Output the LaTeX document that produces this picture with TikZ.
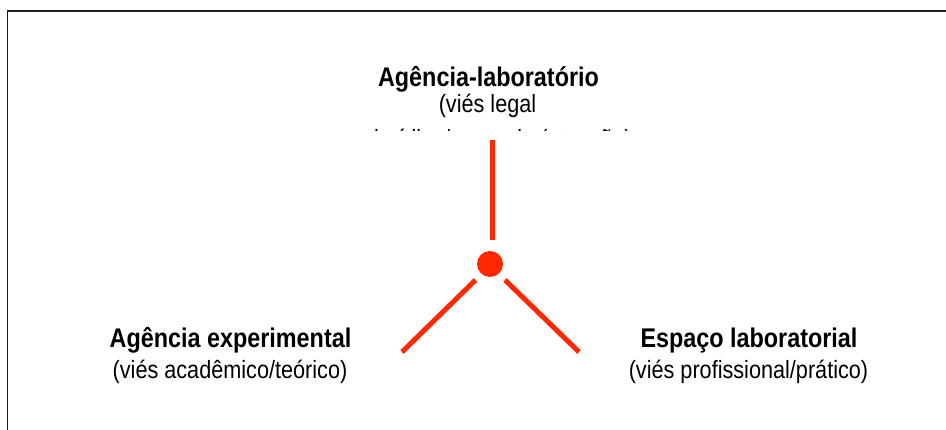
\documentclass[tikz,border=0pt]{standalone}
\usepackage{fontspec}
\setmainfont{Liberation Sans}[FakeStretch=0.866]
\definecolor{hubred}{RGB}{255,40,0}
\definecolor{frame}{RGB}{30,30,30}
\begin{document}
\begin{tikzpicture}[x=1pt,y=-1pt,
  titletext/.style={anchor=base,inner sep=0pt,font=\fontsize{27}{31}\selectfont\bfseries},
  subtext/.style={anchor=base,inner sep=0pt,font=\fontsize{25}{29}\selectfont},
  spoke/.style={draw=hubred,line width=5pt},
  framestyle/.style={draw=frame,line width=1.5pt}]
\useasboundingbox (0,0) rectangle (946,430);
% frame
\coordinate (fbl) at (7.3,430);
\coordinate (ftl) at (7.3,11);
\coordinate (ftr) at (946,11);
\draw[framestyle] (fbl) -- (ftl) -- (ftr);
% top label
\node[titletext] (toptitle) at (488.5,86.7) {Agência-laboratório};
\node[subtext] (topsub) at (487.5,112.2) {(viés legal};
\begin{scope}
\clip (0,0) rectangle (946,130.5);
\node[subtext] (topsubb) at (503,148) {jurídico/mercado (atuação)};
\end{scope}
% left label
\node[titletext] (lefttitle) at (230.5,347.3) {Agência experimental};
\node[subtext] (leftsub) at (230,378.3) {(viés acadêmico/teórico)};
% right label
\node[titletext] (righttitle) at (749,347.3) {Espaço laboratorial};
\node[subtext] (rightsub) at (748.5,378.3) {(viés profissional/prático)};
% hub
\node[circle,fill=hubred,minimum size=26pt,inner sep=0pt] (hub) at (490,264) {};
\coordinate (vtop) at (492.5,140);
\coordinate (vbot) at (492.5,240);
\coordinate (ltop) at (475.5,280);
\coordinate (lbot) at (402,352);
\coordinate (rtop) at (505,280);
\coordinate (rbot) at (579,352);
\draw[spoke] (vtop) -- (vbot);
\draw[spoke] (ltop) -- (lbot);
\draw[spoke] (rtop) -- (rbot);
\end{tikzpicture}
\end{document}
